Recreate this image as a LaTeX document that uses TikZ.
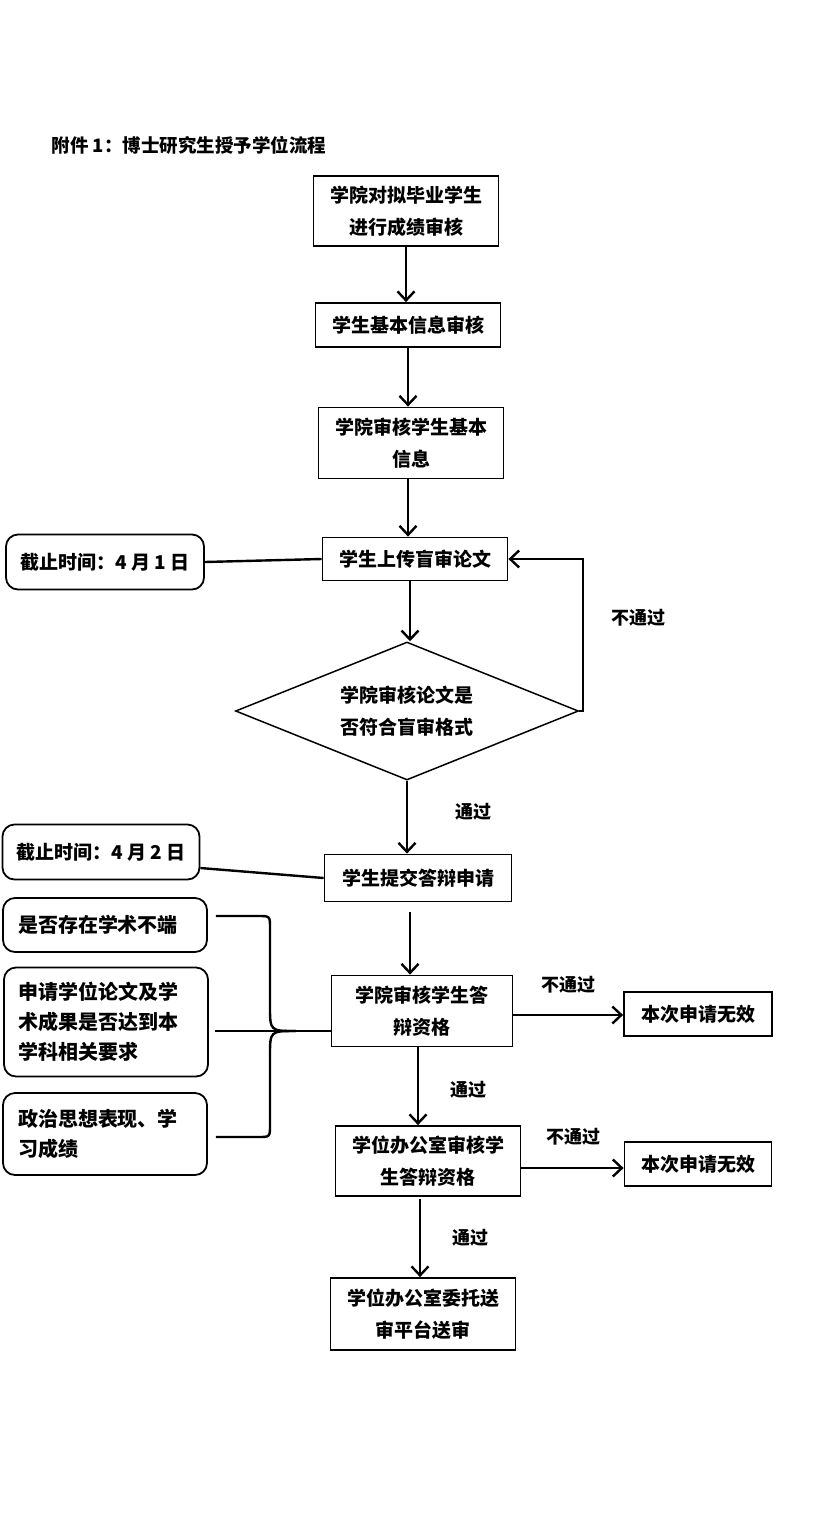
\documentclass[tikz,border=0pt]{standalone}
\usepackage{fontspec}
\newfontfamily\cjk{Noto Sans CJK SC}
\usetikzlibrary{shapes.geometric,arrows.meta}

\begin{document}
\begin{tikzpicture}[x=1pt,y=-1pt,
  every node/.style={font=\cjk\bfseries\fontsize{19}{32}\selectfont},
  box/.style={draw,line width=1.8pt,align=center,inner sep=0pt,minimum width=185pt,minimum height=44pt},
  side/.style={draw,line width=1.8pt,rounded corners=12pt,align=left,inner xsep=15pt,inner ysep=0pt,text width=174pt,font=\cjk\bfseries\fontsize{20}{30}\selectfont},
  dead/.style={draw,line width=1.8pt,rounded corners=12pt,align=center,inner sep=0pt,minimum width=198pt,minimum height=55pt},
  tag/.style={font=\cjk\bfseries\fontsize{18}{20}\selectfont},
  conn/.style={line width=2.4pt},
  arr/.style={conn,-{Straight Barb[length=9pt,width=17pt]}}]
\useasboundingbox (0,0) rectangle (819,1527);
\fill[white] (0,0) rectangle (819,1527);
\node[anchor=west,font=\cjk\bfseries\fontsize{18.5}{20}\selectfont] (title) at (48,145) {附件 1：博士研究生授予学位流程};
\node[box,minimum height=70pt] (t1) at (406,211) {学院对拟毕业学生\\进行成绩审核};
\node[box] (t2) at (408,325) {学生基本信息审核};
\node[box,minimum height=71pt] (t3) at (411,443) {学院审核学生基本\\信息};
\node[box,minimum height=43pt] (up) at (415,559) {学生上传盲审论文};
\node[draw,diamond,line width=1.5pt,aspect=2.5,inner sep=0pt,minimum width=343pt,minimum height=138pt,align=center] (chk) at (407,711) {学院审核论文是\\否符合盲审格式};
\node[box,minimum width=187pt,minimum height=47pt] (sub) at (418,878) {学生提交答辩申请};
\node[box,minimum width=181pt,minimum height=71pt] (col) at (422,1011) {学院审核学生答\\辩资格};
\node[box,minimum width=148pt] (no1) at (698,1014) {本次申请无效};
\node[box,minimum height=70pt] (off) at (428,1161) {学位办公室审核学\\生答辩资格};
\node[box,minimum width=147pt] (no2) at (698,1164) {本次申请无效};
\node[box,minimum height=72pt] (send) at (423,1314) {学位办公室委托送\\审平台送审};
\node[dead] (d1) at (105,562) {截止时间：4 月 1 日};
\node[dead,minimum width=197pt] (d2) at (101,852) {截止时间：4 月 2 日};
\node[side,minimum height=54pt] (L1) at (105,925) {是否存在学术不端};
\node[side,minimum height=109pt] (L2) at (106,1022) {申请学位论文及学\\术成果是否达到本\\学科相关要求};
\node[side,minimum height=82pt] (L3) at (105,1134) {政治思想表现、学\\习成绩};
\node[tag] (lb1) at (638,618) {不通过};
\node[tag] (lb2) at (473,812) {通过};
\node[tag] (lb3) at (568,985) {不通过};
\node[tag] (lb4) at (468,1090) {通过};
\node[tag] (lb5) at (573,1137) {不通过};
\node[tag] (lb6) at (470,1238) {通过};
\coordinate (jn) at (296,1031);
\draw[arr] (t1.south) -- (t1.south |- t2.north);
\draw[arr] (t2.south) -- (t2.south |- t3.north);
\draw[arr] ([shift={(-3,0)}]t3.south) -- ([shift={(-3,0)}]t3.south |- up.north);
\draw[arr] ([shift={(-5,0)}]up.south) -- ([shift={(-5,0)}]up.south |- chk.north);
\draw[arr] (chk.east) -- ++(4,0) |- (up.east);
\draw[arr] (chk.south) -- (chk.south |- sub.north);
\draw[arr] ([shift={(-8,10)}]sub.south) -- ([shift={(-8,0)}]sub.south |- col.north);
\draw[arr] ([shift={(-4,0)}]col.south) -- ([shift={(-4,0)}]col.south |- off.north);
\draw[arr] ([shift={(0,4)}]col.east) -- ([shift={(0,4)}]col.east -| no1.west);
\draw[arr] ([shift={(-8,2)}]off.south) -- ([shift={(-8,0)}]off.south |- send.north);
\draw[arr] ([shift={(0,7)}]off.east) -- ([shift={(0,7)}]off.east -| no2.west);
\draw[conn] (d1.east) -- (up.west);
\draw[conn] ([shift={(0,16)}]d2.east) -- (sub.west);
\draw[conn] ([shift={(8,-9)}]L1.east) -- (258,916) .. controls (270,916) .. (270,928) -- (270,1006) .. controls (270,1031) .. (jn);
\draw[conn] ([shift={(8,3)}]L3.east) -- (258,1137) .. controls (270,1137) .. (270,1125) -- (270,1056) .. controls (270,1031) .. (jn);
\draw[conn] ([shift={(6,9)}]L2.east) -- (jn) -- ([shift={(0,20)}]col.west);
\end{tikzpicture}
\end{document}
